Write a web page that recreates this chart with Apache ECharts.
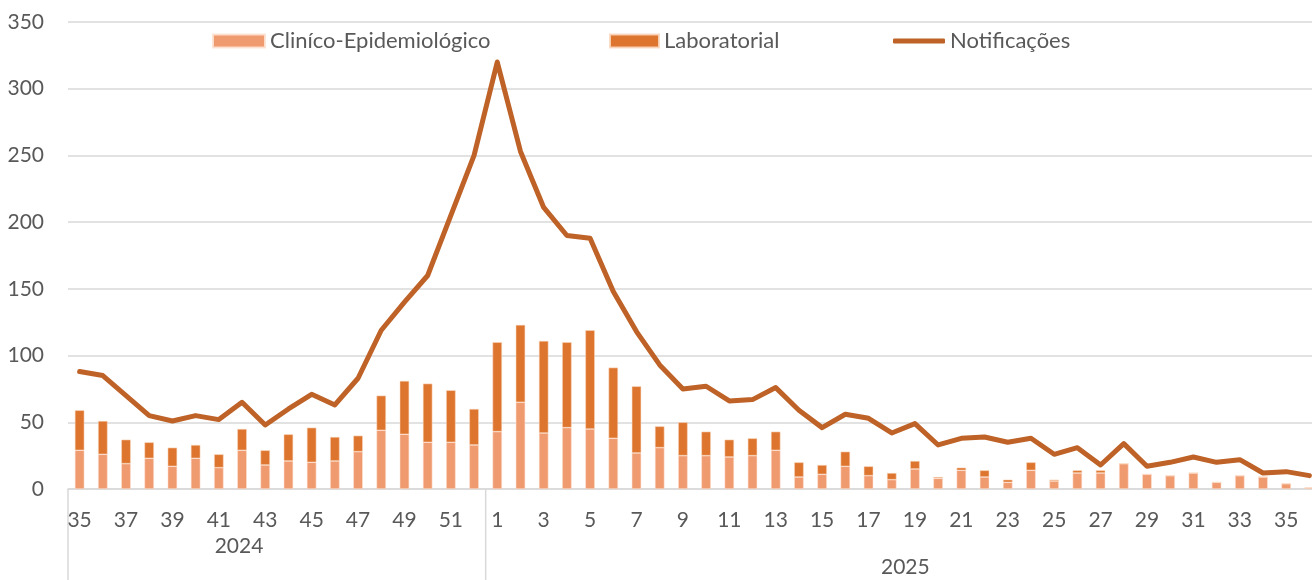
<!DOCTYPE html>
<html>
<head>
<meta charset="utf-8">
<script src="https://cdn.jsdelivr.net/npm/echarts@6/dist/echarts.min.js"></script>
<style>
html,body{margin:0;padding:0;background:#fff;overflow:hidden;width:1312px;height:580px;}
#c{width:1322px;height:580px;}
</style>
</head>
<body>
<div id="c"></div>
<script>
// ---- data ----
const weeks = ['35','36','37','38','39','40','41','42','43','44','45','46','47','48','49','50','51','52',
  '1','2','3','4','5','6','7','8','9','10','11','12','13','14','15','16','17','18','19','20',
  '21','22','23','24','25','26','27','28','29','30','31','32','33','34','35','36'];
const years = ['2024','2025'];
const yearSizes = [18, 36];
const clinico = [29,26,19,23,17,23,16,29,18,21,20,21,28,44,41,35,35,33,
  43,65,42,46,45,38,27,31,25,25,24,25,29,9,11,17,10,7,15,8,14,9,5,14,6,12,12,19,11,10,12,5,10,9,4,1];
const laboratorial = [30,25,18,12,14,10,10,16,11,20,26,18,12,26,40,44,39,27,
  67,58,69,64,74,53,50,16,25,18,13,13,14,11,7,11,7,5,6,1,2,5,2,6,1,2,2,0,0,0,0,0,0,0,0,0];
const notificacoes = [88,85,70,55,51,55,52,65,48,60,71,63,83,119,140,160,205,250,
  320,253,211,190,188,148,118,93,75,77,66,67,76,59,46,56,53,42,49,33,38,39,35,38,26,31,18,34,17,20,24,20,22,12,13,10];
const yTicks = {min:0, max:350, interval:50};
const names = ['Cliníco-Epidemiológico','Laboratorial','Notificações'];

// ---- chart ----
const FONT = 'Lato, "Noto Sans", sans-serif';
const TXT = '#595959';
const GRID = '#d9d9d9';
const FS = 21;
const gridLeft = 68, gridTop = 22, gridBottom = 91, gridWidth = 1253;
const chart = echarts.init(document.getElementById('c'), null, {renderer:'canvas'});

const legendBase = {
  top: 25, orient:'horizontal', selectedMode:false,
  textStyle:{color:TXT, fontSize:22, fontFamily:FONT},
  itemHeight:13
};

chart.setOption({
  animation:false,
  backgroundColor:'#fff',
  textStyle:{fontFamily:FONT},
  grid:{left:gridLeft, top:gridTop, bottom:gridBottom, width:gridWidth, containLabel:false},
  legend:[
    Object.assign({}, legendBase, {left:207, itemWidth:52, data:[{name:names[0], icon:'rect'}]}),
    Object.assign({}, legendBase, {left:604, itemWidth:49, data:[{name:names[1], icon:'rect'}]}),
    Object.assign({}, legendBase, {left:888, itemWidth:52, itemHeight:5, data:[{name:names[2], icon:'roundRect'}]})
  ],
  xAxis:{
    type:'category', data:weeks, boundaryGap:true,
    axisLine:{show:true, lineStyle:{color:GRID, width:1.5}},
    axisTick:{show:false},
    axisLabel:{interval:1, color:TXT, fontSize:FS, fontFamily:FONT, margin:21},
    splitLine:{show:false}
  },
  yAxis:{
    type:'value', min:yTicks.min, max:yTicks.max, interval:yTicks.interval,
    axisLine:{show:false}, axisTick:{show:false},
    axisLabel:{color:TXT, fontSize:FS, fontFamily:FONT, margin:24},
    splitLine:{lineStyle:{color:GRID, width:1.5}}
  },
  series:[
    {name:names[0], type:'bar', stack:'t', data:clinico, barWidth:9.5,
      itemStyle:{color:'#F09A6F', borderColor:'rgba(253,226,210,0.9)', borderWidth:0.6}},
    {name:names[1], type:'bar', stack:'t', data:laboratorial, barWidth:9.5,
      itemStyle:{color:'#DE752F', borderColor:'rgba(250,215,190,0.9)', borderWidth:0.6}},
    {name:names[2], type:'line', data:notificacoes, symbol:'none', z:5,
      lineStyle:{color:'#BE6227', width:5, join:'round', cap:'round'},
      itemStyle:{color:'#BE6227'}}
  ]
});

// multi-level year axis: dividers and year labels
const cw = gridWidth / weeks.length;
const axisY = 580 - gridBottom;
const divX = [gridLeft, gridLeft + yearSizes[0]*cw];
const yearPos = [
  {x: 239, y: 546},
  {x: (divX[1] + gridLeft + gridWidth)/2 + 2, y: 567}
];
const g = [];
divX.forEach(x => g.push({type:'line', shape:{x1:x, y1:axisY, x2:x, y2:580}, style:{stroke:GRID, lineWidth:1.5}, silent:true}));
years.forEach((t,i) => g.push({type:'text', x:yearPos[i].x, y:yearPos[i].y,
  style:{text:t, fill:TXT, fontSize:FS, fontFamily:FONT, align:'center', verticalAlign:'middle'}, silent:true}));
chart.setOption({graphic:g});
</script>
</body>
</html>
